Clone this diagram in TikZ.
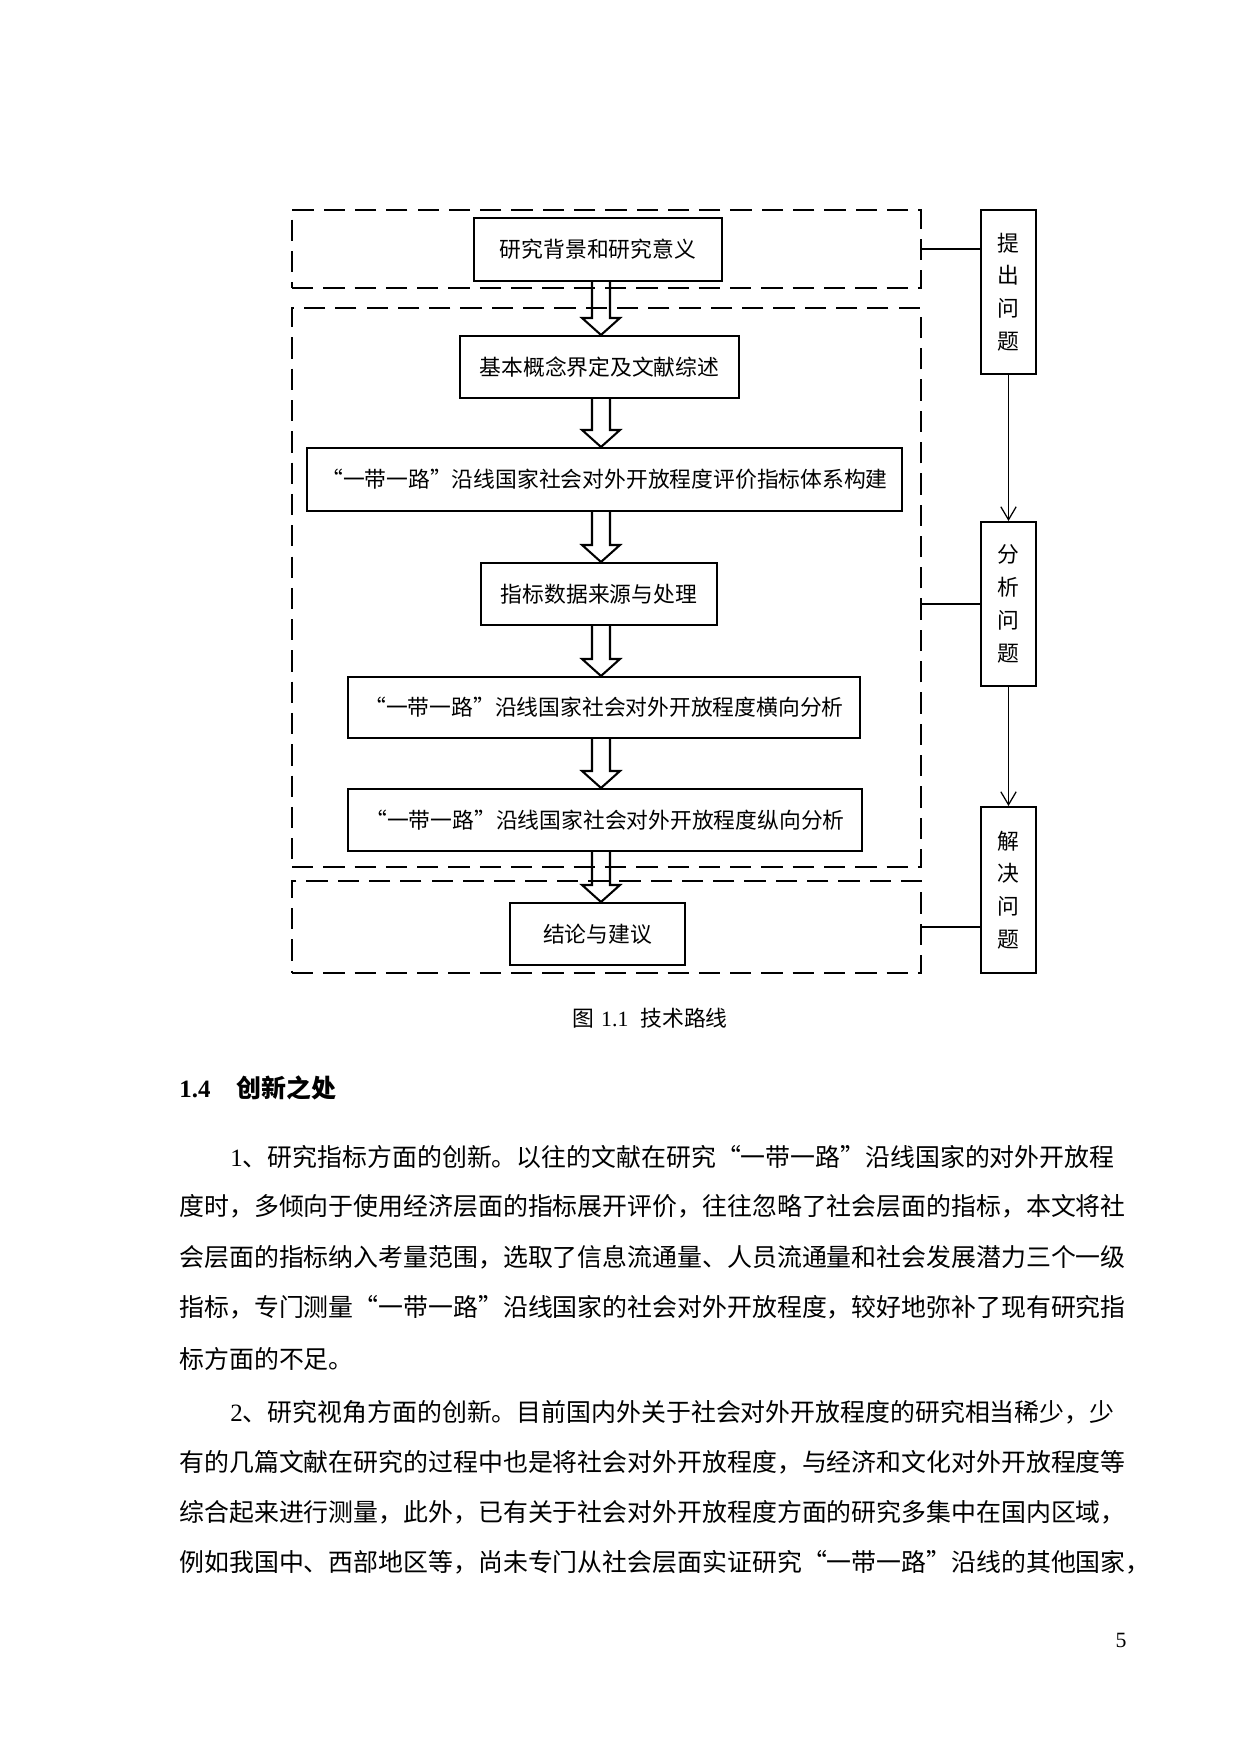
\documentclass[tikz,border=0pt]{standalone}
\usepackage{fontspec}
\setmainfont{Liberation Serif}
\newfontfamily\cjk{Noto Sans CJK SC}
\usetikzlibrary{calc,arrows.meta}
\XeTeXlinebreaklocale "zh"
\XeTeXlinebreakskip=0pt plus 1pt
% one pixel of the page
\def\pxl{0.169355mm}
\newlength\fullw \setlength\fullw{160.89mm}
\newlength\indw \setlength\indw{152.25mm}
\tikzset{
  flowbox/.style={draw, line width=1pt, inner sep=0pt, font=\cjk\fontsize{10.5}{13}\selectfont},
  sidebox/.style={draw, line width=1pt, inner sep=0pt, align=center,
    minimum width=55*\pxl, minimum height=164*\pxl, font=\cjk\fontsize{10.5}{15.8}\selectfont},
  dashframe/.style={draw, line width=1pt, inner sep=0pt, dash pattern=on 3.6mm off 1.7mm},
  blockarrow/.style={line width=1pt, line join=miter},
  thinline/.style={line width=0.6pt},
  thinarrow/.style={thinline, -{Straight Barb[length=2.2mm, width=2.6mm]}},
  bodyline/.style={anchor=base west, inner sep=0pt, font=\cjk\fontsize{12}{24}\selectfont},
}
\newcommand{\hollowarrow}[2]{%
  \draw[blockarrow] ($(#1)+(-9,0)$) -- ($(#2)+(-9,-17)$) -- ($(#2)+(-19,-17)$) -- (#2)
    -- ($(#2)+(19,-17)$) -- ($(#2)+(9,-17)$) -- ($(#1)+(9,0)$);}
\begin{document}
\begin{tikzpicture}[x=0.169355mm, y=-0.169355mm]
  \useasboundingbox (0,0) rectangle (1240,1754);
  % dashed frames
  \node[dashframe, minimum width=629*\pxl, minimum height=78*\pxl] (f1) at (606.5,249) {};
  \node[dashframe, minimum width=629*\pxl, minimum height=559*\pxl] (f2) at (606.5,587.5) {};
  \node[dashframe, minimum width=629*\pxl, minimum height=92*\pxl] (f3) at (606.5,927) {};
  % main steps
  \node[flowbox, minimum width=248*\pxl, minimum height=63*\pxl] (bg) at (598,249.5) {研究背景和研究意义};
  \node[flowbox, minimum width=279*\pxl, minimum height=62*\pxl] (lit) at (599.5,367) {基本概念界定及文献综述};
  \node[flowbox, minimum width=595*\pxl, minimum height=63*\pxl] (idx) at (604.5,479.5) {“一带一路”沿线国家社会对外开放程度评价指标体系构建};
  \node[flowbox, minimum width=236*\pxl, minimum height=62*\pxl] (dat) at (599,594) {指标数据来源与处理};
  \node[flowbox, minimum width=512*\pxl, minimum height=61*\pxl] (hor) at (604,707.5) {“一带一路”沿线国家社会对外开放程度横向分析};
  \node[flowbox, minimum width=514*\pxl, minimum height=62*\pxl] (ver) at (605,820) {“一带一路”沿线国家社会对外开放程度纵向分析};
  \node[flowbox, minimum width=175*\pxl, minimum height=62*\pxl] (con) at (597.5,934) {结论与建议};
  \coordinate (spine) at (601,0);
  \hollowarrow{bg.south -| spine}{lit.north -| spine}
  \hollowarrow{lit.south -| spine}{idx.north -| spine}
  \hollowarrow{idx.south -| spine}{dat.north -| spine}
  \hollowarrow{dat.south -| spine}{hor.north -| spine}
  \hollowarrow{hor.south -| spine}{ver.north -| spine}
  \hollowarrow{ver.south -| spine}{con.north -| spine}
  % right column
  \node[sidebox] (ask) at (1008.5,292) {提\\出\\问\\题};
  \node[sidebox] (ana) at (1008.5,604) {分\\析\\问\\题};
  \node[sidebox, minimum height=166*\pxl] (sol) at (1008.5,890) {解\\决\\问\\题};
  \draw[thinline] (f1.east) -- (f1.east -| ask.west);
  \draw[thinline] (ana.west) -- (ana.west -| f2.east);
  \draw[thinline] (f3.east) -- (f3.east -| sol.west);
  \draw[thinarrow] (ask.south) -- (ana.north);
  \draw[thinarrow] (ana.south) -- (sol.north);
  % caption
  \node[anchor=base, inner sep=0pt, font=\cjk\fontsize{10.5}{13}\selectfont] (cap) at (650,1026) {图\hspace{3.4pt}{\rmfamily 1.1}\hspace{5.8pt}技术路线};
  % section heading
  \node[anchor=base west, inner sep=0pt, font=\fontsize{12}{14}\selectfont\bfseries] (secno) at (179,1097) {1.4};
  \node[anchor=base west, inner sep=0pt, font=\cjk\fontsize{12}{14}\selectfont\bfseries] (sectitle) at (236,1097) {创新之处};
  % first paragraph
  \node[bodyline] (p1a) at (230,1166) {\makebox[\indw][s]{{\rmfamily 1}、研究指标方面的创新。以往的文献在研究“一带一路”沿线国家的对外开放程}};
  \node[bodyline] (p1b) at (179,1215) {\makebox[\fullw][s]{度时，多倾向于使用经济层面的指标展开评价，往往忽略了社会层面的指标，本文将社}};
  \node[bodyline] (p1c) at (179,1266) {\makebox[\fullw][s]{会层面的指标纳入考量范围，选取了信息流通量、人员流通量和社会发展潜力三个一级}};
  \node[bodyline] (p1d) at (179,1316) {\makebox[\fullw][s]{指标，专门测量“一带一路”沿线国家的社会对外开放程度，较好地弥补了现有研究指}};
  \node[bodyline] (p1e) at (179,1368) {标方面的不足。};
  % second paragraph
  \node[bodyline] (p2a) at (230,1421) {\makebox[\indw][s]{{\rmfamily 2}、研究视角方面的创新。目前国内外关于社会对外开放程度的研究相当稀少，少}};
  \node[bodyline] (p2b) at (179,1471) {\makebox[\fullw][s]{有的几篇文献在研究的过程中也是将社会对外开放程度，与经济和文化对外开放程度等}};
  \node[bodyline] (p2c) at (179,1521) {\makebox[\fullw][s]{综合起来进行测量，此外，已有关于社会对外开放程度方面的研究多集中在国内区域，}};
  \node[bodyline] (p2d) at (179,1571) {\makebox[\fullw][s]{例如我国中、西部地区等，尚未专门从社会层面实证研究“一带一路”沿线的其他国家，}};
  % page number
  \node[anchor=base east, inner sep=0pt, font=\fontsize{10.5}{12}\selectfont] (pageno) at (1127,1647) {5};
\end{tikzpicture}
\end{document}
